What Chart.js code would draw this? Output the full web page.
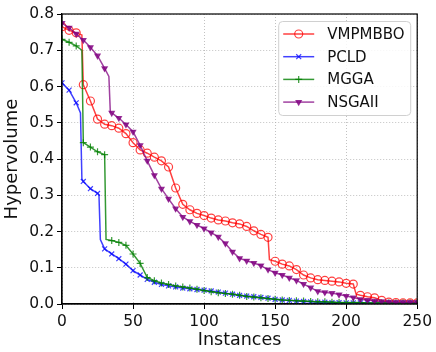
<!DOCTYPE html>
<html>
<head>
<meta charset="utf-8">
<script src="https://cdn.jsdelivr.net/npm/chart.js@4/dist/chart.umd.min.js"></script>
<style>
html, body { margin: 0; padding: 0; background: #fff; }
</style>
</head>
<body>
<canvas id="chart" width="436" height="352"></canvas>
<script>
'use strict';

// values (x = instance index, y = hypervolume)
const seriesNames = ['VMPMBBO', 'PCLD', 'MGGA', 'NSGAII'];
const xTicks = [0, 50, 100, 150, 200, 250];
const yTicks = [0.0, 0.1, 0.2, 0.3, 0.4, 0.5, 0.6, 0.7, 0.8];

const vmpX = [0, 5, 10, 14, 15, 20, 25, 30, 35, 40, 45, 50, 55, 60, 65, 70, 75, 80, 85, 90, 95, 100, 105, 110, 115, 120, 125, 130, 135, 140, 145, 146, 150, 155, 160, 165, 170, 175, 180, 185, 190, 195, 200, 205, 207, 210, 215, 220, 225, 230, 235, 240, 245, 250];
const vmpY = [0.765, 0.755, 0.748, 0.742, 0.605, 0.56, 0.51, 0.496, 0.492, 0.485, 0.47, 0.445, 0.425, 0.416, 0.405, 0.395, 0.378, 0.32, 0.275, 0.26, 0.25, 0.244, 0.237, 0.232, 0.229, 0.224, 0.221, 0.214, 0.202, 0.192, 0.184, 0.122, 0.118, 0.11, 0.105, 0.095, 0.08, 0.072, 0.067, 0.065, 0.063, 0.061, 0.057, 0.055, 0.027, 0.024, 0.02, 0.017, 0.01, 0.005, 0.004, 0.003, 0.003, 0.003];

const pcldX = [0, 5, 10, 13, 14, 15, 20, 25, 26, 27, 30, 35, 40, 45, 50, 55, 60, 65, 70, 75, 80, 85, 90, 95, 100, 105, 110, 115, 120, 125, 130, 135, 140, 145, 150, 155, 160, 165, 170, 175, 180, 185, 190, 195, 200, 205, 210, 215, 220, 225, 230, 235, 240, 245, 250];
const pcldY = [0.61, 0.59, 0.555, 0.527, 0.345, 0.338, 0.318, 0.305, 0.302, 0.178, 0.152, 0.138, 0.125, 0.11, 0.092, 0.08, 0.068, 0.06, 0.054, 0.05, 0.047, 0.044, 0.042, 0.04, 0.038, 0.036, 0.033, 0.03, 0.027, 0.024, 0.022, 0.02, 0.018, 0.016, 0.013, 0.011, 0.01, 0.008, 0.007, 0.006, 0.005, 0.005, 0.004, 0.004, 0.003, 0.003, 0.003, 0.003, 0.002, 0.002, 0.002, 0.002, 0.002, 0.002, 0.002];

const mggaX = [0, 5, 10, 14, 15, 20, 25, 30, 31, 35, 40, 45, 50, 55, 60, 65, 70, 75, 80, 85, 90, 95, 100, 105, 110, 115, 120, 125, 130, 135, 140, 145, 150, 155, 160, 165, 170, 175, 180, 185, 190, 195, 200, 205, 210, 215, 220, 225, 230, 235, 240, 245, 250];
const mggaY = [0.73, 0.722, 0.712, 0.70, 0.445, 0.433, 0.42, 0.412, 0.178, 0.175, 0.17, 0.162, 0.138, 0.112, 0.073, 0.064, 0.058, 0.054, 0.05, 0.047, 0.044, 0.041, 0.037, 0.034, 0.031, 0.029, 0.027, 0.024, 0.021, 0.019, 0.017, 0.015, 0.013, 0.011, 0.01, 0.009, 0.008, 0.007, 0.006, 0.006, 0.005, 0.004, 0.004, 0.004, 0.004, 0.003, 0.003, 0.003, 0.003, 0.003, 0.003, 0.003, 0.003];

const nsgaX = [0, 5, 10, 15, 20, 25, 30, 33, 34, 35, 40, 45, 50, 55, 60, 65, 70, 75, 80, 85, 90, 95, 100, 105, 110, 115, 120, 125, 130, 135, 140, 145, 150, 155, 160, 165, 170, 175, 180, 185, 190, 195, 200, 205, 210, 215, 220, 225, 230, 235, 240, 245, 250];
const nsgaY = [0.775, 0.762, 0.745, 0.728, 0.708, 0.685, 0.65, 0.628, 0.53, 0.527, 0.513, 0.495, 0.475, 0.438, 0.395, 0.355, 0.318, 0.29, 0.263, 0.24, 0.228, 0.218, 0.208, 0.197, 0.185, 0.167, 0.144, 0.126, 0.119, 0.113, 0.106, 0.095, 0.086, 0.08, 0.072, 0.065, 0.055, 0.045, 0.035, 0.032, 0.03, 0.026, 0.022, 0.018, 0.013, 0.011, 0.009, 0.007, 0.006, 0.005, 0.005, 0.005, 0.005];

const FONT = "'DejaVu Sans', sans-serif";
const TEXT = '#111111';

const styles = [
    { color: 'rgba(255, 0, 0, 0.75)', fill: 'rgba(0,0,0,0)', pointStyle: 'circle', radius: 4, rotation: 0 },
    { color: 'rgba(0, 0, 255, 0.75)', fill: 'rgba(0,0,255,0.75)', pointStyle: 'crossRot', radius: 3.5, rotation: 0 },
    { color: 'rgba(0, 128, 0, 0.8)', fill: 'rgba(0,128,0,0.8)', pointStyle: 'cross', radius: 3.5, rotation: 0 },
    { color: 'rgba(128, 0, 128, 0.75)', fill: 'rgba(128,0,128,0.75)', pointStyle: 'triangle', radius: 3, rotation: 180 }
];

function toPoints(xs, ys) {
    return xs.map((x, i) => ({ x: x, y: ys[i] }));
}

function makeDataset(i, xs, ys) {
    const s = styles[i];
    return {
        label: seriesNames[i],
        data: toPoints(xs, ys),
        borderColor: s.color,
        borderWidth: 1.5,
        pointStyle: s.pointStyle,
        pointRotation: s.rotation,
        pointRadius: (c) => (c.raw && c.raw.x % 5 === 0 ? s.radius : 0),
        pointBorderColor: s.color,
        pointBackgroundColor: s.fill,
        pointBorderWidth: 1.2,
        tension: 0,
        fill: false,
        order: 4 - i
    };
}

// frame round the plot area, like the matplotlib spines
const framePlugin = {
    id: 'frame',
    afterDatasetsDraw(chart) {
        const a = chart.chartArea;
        const ctx = chart.ctx;
        ctx.save();
        ctx.strokeStyle = '#000';
        ctx.lineWidth = 1.2;
        ctx.strokeRect(a.left, a.top, a.right - a.left, a.bottom - a.top);
        ctx.restore();
    }
};

// legend box inside the top right corner
const boxLegendPlugin = {
    id: 'boxLegend',
    afterDraw(chart) {
        const ctx = chart.ctx;
        const a = chart.chartArea;
        const w = 132, h = 94;
        const x0 = a.right - 7 - w, y0 = a.top + 7;
        ctx.save();
        ctx.beginPath();
        ctx.roundRect(x0 + 0.5, y0 + 0.5, w, h, 4);
        ctx.fillStyle = 'rgba(255,255,255,0.85)';
        ctx.fill();
        ctx.strokeStyle = '#d0d0d0';
        ctx.lineWidth = 1;
        ctx.stroke();

        chart.data.datasets.forEach((ds, i) => {
            const s = styles[i];
            const y = y0 + 13 + i * 22.7;
            ctx.beginPath();
            ctx.strokeStyle = s.color;
            ctx.lineWidth = 1.5;
            ctx.moveTo(x0 + 5, y);
            ctx.lineTo(x0 + 36, y);
            ctx.stroke();
            ctx.fillStyle = s.fill;
            ctx.strokeStyle = s.color;
            ctx.lineWidth = 1.2;
            if (Chart.helpers && Chart.helpers.drawPoint) {
                Chart.helpers.drawPoint(ctx, {
                    pointStyle: s.pointStyle, rotation: s.rotation,
                    radius: s.radius, borderWidth: 1.2
                }, x0 + 20.5, y);
            }
            ctx.fillStyle = TEXT;
            ctx.font = '15px ' + FONT;
            ctx.textAlign = 'left';
            ctx.textBaseline = 'middle';
            ctx.fillText(ds.label, x0 + 49, y + 1);
        });
        ctx.restore();
    }
};

const gridColor = 'rgba(170, 170, 170, 0.9)';

new Chart(document.getElementById('chart').getContext('2d'), {
    type: 'line',
    data: {
        datasets: [
            makeDataset(0, vmpX, vmpY),
            makeDataset(1, pcldX, pcldY),
            makeDataset(2, mggaX, mggaY),
            makeDataset(3, nsgaX, nsgaY)
        ]
    },
    options: {
        responsive: false,
        animation: false,
        layout: { padding: { top: 14, right: 15, left: 0, bottom: 0 } },
        plugins: {
            legend: { display: false },
            tooltip: { enabled: false }
        },
        scales: {
            x: {
                type: 'linear',
                min: xTicks[0],
                max: xTicks[xTicks.length - 1],
                afterBuildTicks: (s) => { s.ticks = xTicks.map(v => ({ value: v })); },
                afterFit: (s) => { s.height = 48; },
                ticks: {
                    font: { family: FONT, size: 15.5 },
                    color: TEXT,
                    padding: 4,
                    maxRotation: 0,
                    callback: (v) => String(v)
                },
                grid: { color: gridColor, lineWidth: 0.8, tickColor: '#000', tickLength: 5, tickWidth: 1 },
                border: { color: '#000', width: 1.2, dash: [1, 2] },
                title: {
                    display: true, text: 'Instances', color: TEXT,
                    font: { family: FONT, size: 17.5 },
                    padding: { top: 0, bottom: 1 }
                }
            },
            y: {
                type: 'linear',
                min: yTicks[0],
                max: yTicks[yTicks.length - 1],
                afterBuildTicks: (s) => { s.ticks = yTicks.map(v => ({ value: v })); },
                afterFit: (s) => { s.width = 62; },
                ticks: {
                    font: { family: FONT, size: 15.5 },
                    color: TEXT,
                    padding: 3,
                    callback: (v) => Number(v).toFixed(1)
                },
                grid: { color: gridColor, lineWidth: 0.8, tickColor: '#000', tickLength: 5, tickWidth: 1 },
                border: { color: '#000', width: 1.2, dash: [1, 2] },
                title: {
                    display: true, text: 'Hypervolume', color: TEXT,
                    font: { family: FONT, size: 18 },
                    padding: { top: 2, bottom: 0 }
                }
            }
        }
    },
    plugins: [framePlugin, boxLegendPlugin]
});
</script>
</body>
</html>
